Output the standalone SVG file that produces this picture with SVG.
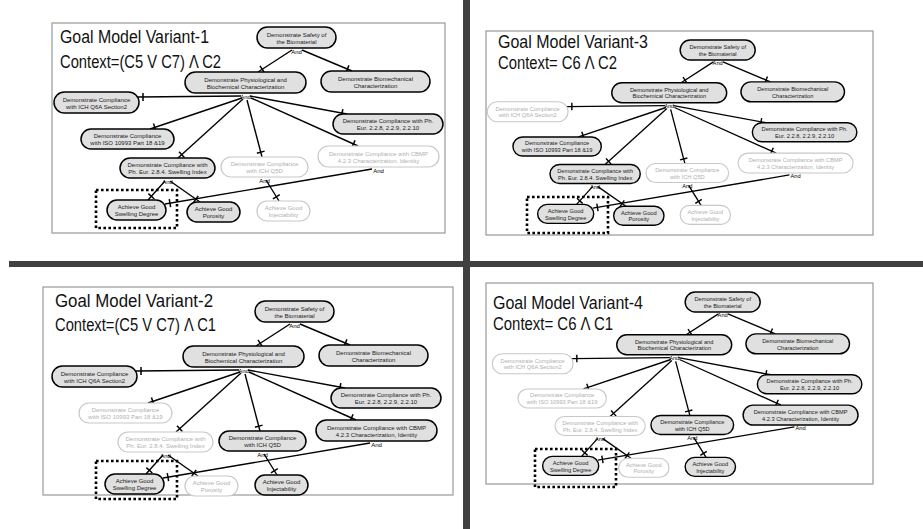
<svg xmlns="http://www.w3.org/2000/svg" width="923" height="529" viewBox="0 0 923 529">
<defs>
<marker id="tk" markerUnits="userSpaceOnUse" markerWidth="12" markerHeight="12" refX="6" refY="6" orient="auto" overflow="visible">
<path d="M1,2 L1,10" stroke="#000" stroke-width="1.5" fill="none"/>
</marker>
<style>
.frame{fill:#fff;stroke:#a0a0a0;stroke-width:1.3}
.bar{fill:#404040}
.title{font-family:"Liberation Sans",Arial,sans-serif;font-size:17.5px;fill:#111}
.t{font-family:"Liberation Sans",Arial,sans-serif;font-size:6px;text-anchor:middle}
.on rect{fill:#e0e0e0;stroke:#000;stroke-width:1.5}
.on text{fill:#1a1a1a}
.off rect{fill:#fff;stroke:#c8c8c8;stroke-width:1.2}
.off text{fill:#b0b0b0}
.conn line{stroke:#000;stroke-width:1.4;marker-end:url(#tk)}
.conn text{fill:#000}
.dash{fill:none;stroke:#000;stroke-width:2.6;stroke-dasharray:2.6 2.4}
</style>
</defs>
<rect width="923" height="529" fill="#fff"/>

<!-- Variant 1 -->
<g id="variant1">
<rect class="frame" x="52" y="23" width="393" height="210"/>
<text class="title" x="60" y="43" textLength="149" lengthAdjust="spacingAndGlyphs">Goal Model Variant-1</text>
<text class="title" x="60" y="68" textLength="161" lengthAdjust="spacingAndGlyphs">Context=(C5 V C7) Λ C2</text>
<g>
<g id="v1-connectors" class="conn t">
<line x1="292" y1="50" x2="258" y2="72"/>
<line x1="302" y1="50" x2="352" y2="71"/>
<line x1="241" y1="96" x2="138" y2="97"/>
<line x1="242" y1="98" x2="150" y2="129"/>
<line x1="243" y1="99" x2="178" y2="158"/>
<line x1="247" y1="100" x2="262" y2="157"/>
<line x1="250" y1="96" x2="347" y2="114"/>
<line x1="251" y1="98" x2="358" y2="146"/>
<line x1="165" y1="181" x2="148" y2="200"/>
<line x1="170" y1="181" x2="200" y2="202"/>
<line x1="372" y1="169" x2="165" y2="204"/>
<line x1="266" y1="180" x2="279" y2="201"/>
<text x="296.5" y="53.5">And</text>
<text x="245.5" y="98.5">And</text>
<text x="378.5" y="172.5">And</text>
<text x="264.5" y="182.5">And</text>
<text x="167.5" y="183.5">And</text>
</g>
<g id="v1-safety" class="on t"><rect x="257" y="27" width="79" height="21" rx="10.5"/><text x="296.5" y="36.5">Demonstrate Safety of</text><text x="296.5" y="43.5">the Biomaterial</text></g>
<g id="v1-phys" class="on t"><rect x="185" y="72" width="121" height="21" rx="10.5"/><text x="245.5" y="81.5">Demonstrate Physiological and</text><text x="245.5" y="88.5">Biochemical Characterization</text></g>
<g id="v1-biomech" class="on t"><rect x="321" y="71" width="109" height="21" rx="10.5"/><text x="375.5" y="80.5">Demonstrate Biomechanical</text><text x="375.5" y="87.5">Characterization</text></g>
<g id="v1-q6a" class="on t"><rect x="54" y="92" width="85" height="21" rx="10.5"/><text x="96.5" y="101.5">Demonstrate Compliance</text><text x="96.5" y="108.5">with ICH Q6A Section2</text></g>
<g id="v1-iso" class="on t"><rect x="81" y="129" width="93" height="20" rx="10"/><text x="127.5" y="138">Demonstrate Compliance</text><text x="127.5" y="145">with ISO 10993 Part 18 &amp;19</text></g>
<g id="v1-swidx" class="on t"><rect x="120" y="158" width="95" height="20" rx="10"/><text x="167.5" y="167">Demonstrate Compliance with</text><text x="167.5" y="174">Ph. Eur. 2.8.4. Swelling Index</text></g>
<g id="v1-q5d" class="off t"><rect x="221" y="157" width="87" height="20" rx="10"/><text x="264.5" y="166">Demonstrate Compliance</text><text x="264.5" y="173">with ICH Q5D</text></g>
<g id="v1-pheur" class="on t"><rect x="333" y="114" width="110" height="20" rx="10"/><text x="388" y="123">Demonstrate Compliance with Ph.</text><text x="388" y="130">Eur. 2.2.8, 2.2.9, 2.2.10</text></g>
<g id="v1-cbmp" class="off t"><rect x="318" y="146" width="121" height="21" rx="10.5"/><text x="378.5" y="155.5">Demonstrate Compliance with CBMP</text><text x="378.5" y="162.5">4.2.3 Characterization, Identity</text></g>
<g id="v1-inj" class="off t"><rect x="257" y="201" width="53" height="20" rx="10"/><text x="283.5" y="210">Achieve Good</text><text x="283.5" y="217">Injectability</text></g>
<g id="v1-sd" class="on t"><rect x="107" y="200" width="59" height="20" rx="10"/><text x="136.5" y="209">Achieve Good</text><text x="136.5" y="216">Swelling Degree</text></g>
<g id="v1-por" class="on t"><rect x="187" y="202" width="53" height="20" rx="10"/><text x="213.5" y="211">Achieve Good</text><text x="213.5" y="218">Porosity</text></g>
</g>
<rect class="dash" x="96" y="190" width="81" height="38"/>
</g>

<!-- Variant 2 -->
<g id="variant2">
<rect class="frame" x="43" y="287" width="410" height="208"/>
<text class="title" x="55" y="307" textLength="158" lengthAdjust="spacingAndGlyphs">Goal Model Variant-2</text>
<text class="title" x="55" y="331" textLength="161" lengthAdjust="spacingAndGlyphs">Context=(C5 V C7) Λ C1</text>
<g transform="translate(-2,274)">
<g id="v2-connectors" class="conn t">
<line x1="292" y1="50" x2="258" y2="72"/>
<line x1="302" y1="50" x2="352" y2="71"/>
<line x1="241" y1="96" x2="138" y2="97"/>
<line x1="242" y1="98" x2="150" y2="129"/>
<line x1="243" y1="99" x2="178" y2="158"/>
<line x1="247" y1="100" x2="262" y2="157"/>
<line x1="250" y1="96" x2="347" y2="114"/>
<line x1="251" y1="98" x2="358" y2="146"/>
<line x1="165" y1="181" x2="148" y2="200"/>
<line x1="170" y1="181" x2="200" y2="202"/>
<line x1="372" y1="169" x2="165" y2="204"/>
<line x1="266" y1="180" x2="279" y2="201"/>
<text x="296.5" y="53.5">And</text>
<text x="245.5" y="98.5">And</text>
<text x="378.5" y="172.5">And</text>
<text x="264.5" y="182.5">And</text>
<text x="167.5" y="183.5">And</text>
</g>
<g id="v2-safety" class="on t"><rect x="257" y="27" width="79" height="21" rx="10.5"/><text x="296.5" y="36.5">Demonstrate Safety of</text><text x="296.5" y="43.5">the Biomaterial</text></g>
<g id="v2-phys" class="on t"><rect x="185" y="72" width="121" height="21" rx="10.5"/><text x="245.5" y="81.5">Demonstrate Physiological and</text><text x="245.5" y="88.5">Biochemical Characterization</text></g>
<g id="v2-biomech" class="on t"><rect x="321" y="71" width="109" height="21" rx="10.5"/><text x="375.5" y="80.5">Demonstrate Biomechanical</text><text x="375.5" y="87.5">Characterization</text></g>
<g id="v2-q6a" class="on t"><rect x="54" y="92" width="85" height="21" rx="10.5"/><text x="96.5" y="101.5">Demonstrate Compliance</text><text x="96.5" y="108.5">with ICH Q6A Section2</text></g>
<g id="v2-iso" class="off t"><rect x="81" y="129" width="93" height="20" rx="10"/><text x="127.5" y="138">Demonstrate Compliance</text><text x="127.5" y="145">with ISO 10993 Part 18 &amp;19</text></g>
<g id="v2-swidx" class="off t"><rect x="120" y="158" width="95" height="20" rx="10"/><text x="167.5" y="167">Demonstrate Compliance with</text><text x="167.5" y="174">Ph. Eur. 2.8.4. Swelling Index</text></g>
<g id="v2-q5d" class="on t"><rect x="221" y="157" width="87" height="20" rx="10"/><text x="264.5" y="166">Demonstrate Compliance</text><text x="264.5" y="173">with ICH Q5D</text></g>
<g id="v2-pheur" class="on t"><rect x="333" y="114" width="110" height="20" rx="10"/><text x="388" y="123">Demonstrate Compliance with Ph.</text><text x="388" y="130">Eur. 2.2.8, 2.2.9, 2.2.10</text></g>
<g id="v2-cbmp" class="on t"><rect x="318" y="146" width="121" height="21" rx="10.5"/><text x="378.5" y="155.5">Demonstrate Compliance with CBMP</text><text x="378.5" y="162.5">4.2.3 Characterization, Identity</text></g>
<g id="v2-inj" class="on t"><rect x="257" y="201" width="53" height="20" rx="10"/><text x="283.5" y="210">Achieve Good</text><text x="283.5" y="217">Injectability</text></g>
<g id="v2-sd" class="on t"><rect x="107" y="200" width="59" height="20" rx="10"/><text x="136.5" y="209">Achieve Good</text><text x="136.5" y="216">Swelling Degree</text></g>
<g id="v2-por" class="off t"><rect x="187" y="202" width="53" height="20" rx="10"/><text x="213.5" y="211">Achieve Good</text><text x="213.5" y="218">Porosity</text></g>
</g>
<rect class="dash" x="96" y="461" width="81" height="38"/>
</g>

<!-- Variant 3 -->
<g id="variant3">
<rect class="frame" x="486" y="31" width="387" height="204"/>
<text class="title" x="498" y="48" textLength="150" lengthAdjust="spacingAndGlyphs">Goal Model Variant-3</text>
<text class="title" x="498" y="69" textLength="119" lengthAdjust="spacingAndGlyphs">Context= C6 Λ C2</text>
<g transform="translate(436,14.4) scale(0.95)">
<g id="v3-connectors" class="conn t">
<line x1="292" y1="50" x2="258" y2="72"/>
<line x1="302" y1="50" x2="352" y2="71"/>
<line x1="241" y1="96" x2="138" y2="97"/>
<line x1="242" y1="98" x2="150" y2="129"/>
<line x1="243" y1="99" x2="178" y2="158"/>
<line x1="247" y1="100" x2="262" y2="157"/>
<line x1="250" y1="96" x2="347" y2="114"/>
<line x1="251" y1="98" x2="358" y2="146"/>
<line x1="165" y1="181" x2="148" y2="200"/>
<line x1="170" y1="181" x2="200" y2="202"/>
<line x1="372" y1="169" x2="165" y2="204"/>
<line x1="266" y1="180" x2="279" y2="201"/>
<text x="296.5" y="53.5">And</text>
<text x="245.5" y="98.5">And</text>
<text x="378.5" y="172.5">And</text>
<text x="264.5" y="182.5">And</text>
<text x="167.5" y="183.5">And</text>
</g>
<g id="v3-safety" class="on t"><rect x="257" y="27" width="79" height="21" rx="10.5"/><text x="296.5" y="36.5">Demonstrate Safety of</text><text x="296.5" y="43.5">the Biomaterial</text></g>
<g id="v3-phys" class="on t"><rect x="185" y="72" width="121" height="21" rx="10.5"/><text x="245.5" y="81.5">Demonstrate Physiological and</text><text x="245.5" y="88.5">Biochemical Characterization</text></g>
<g id="v3-biomech" class="on t"><rect x="321" y="71" width="109" height="21" rx="10.5"/><text x="375.5" y="80.5">Demonstrate Biomechanical</text><text x="375.5" y="87.5">Characterization</text></g>
<g id="v3-q6a" class="off t"><rect x="54" y="92" width="85" height="21" rx="10.5"/><text x="96.5" y="101.5">Demonstrate Compliance</text><text x="96.5" y="108.5">with ICH Q6A Section2</text></g>
<g id="v3-iso" class="on t"><rect x="81" y="129" width="93" height="20" rx="10"/><text x="127.5" y="138">Demonstrate Compliance</text><text x="127.5" y="145">with ISO 10993 Part 18 &amp;19</text></g>
<g id="v3-swidx" class="on t"><rect x="120" y="158" width="95" height="20" rx="10"/><text x="167.5" y="167">Demonstrate Compliance with</text><text x="167.5" y="174">Ph. Eur. 2.8.4. Swelling Index</text></g>
<g id="v3-q5d" class="off t"><rect x="221" y="157" width="87" height="20" rx="10"/><text x="264.5" y="166">Demonstrate Compliance</text><text x="264.5" y="173">with ICH Q5D</text></g>
<g id="v3-pheur" class="on t"><rect x="333" y="114" width="110" height="20" rx="10"/><text x="388" y="123">Demonstrate Compliance with Ph.</text><text x="388" y="130">Eur. 2.2.8, 2.2.9, 2.2.10</text></g>
<g id="v3-cbmp" class="off t"><rect x="318" y="146" width="121" height="21" rx="10.5"/><text x="378.5" y="155.5">Demonstrate Compliance with CBMP</text><text x="378.5" y="162.5">4.2.3 Characterization, Identity</text></g>
<g id="v3-inj" class="off t"><rect x="257" y="201" width="53" height="20" rx="10"/><text x="283.5" y="210">Achieve Good</text><text x="283.5" y="217">Injectability</text></g>
<g id="v3-sd" class="on t"><rect x="107" y="200" width="59" height="20" rx="10"/><text x="136.5" y="209">Achieve Good</text><text x="136.5" y="216">Swelling Degree</text></g>
<g id="v3-por" class="on t"><rect x="187" y="202" width="53" height="20" rx="10"/><text x="213.5" y="211">Achieve Good</text><text x="213.5" y="218">Porosity</text></g>
</g>
<rect class="dash" x="527" y="197" width="81" height="36"/>
</g>

<!-- Variant 4 -->
<g id="variant4">
<rect class="frame" x="486" y="283" width="387" height="201"/>
<text class="title" x="493" y="309" textLength="150" lengthAdjust="spacingAndGlyphs">Goal Model Variant-4</text>
<text class="title" x="493" y="330" textLength="120" lengthAdjust="spacingAndGlyphs">Context= C6 Λ C1</text>
<g transform="translate(441,266.4) scale(0.95)">
<g id="v4-connectors" class="conn t">
<line x1="292" y1="50" x2="258" y2="72"/>
<line x1="302" y1="50" x2="352" y2="71"/>
<line x1="241" y1="96" x2="138" y2="97"/>
<line x1="242" y1="98" x2="150" y2="129"/>
<line x1="243" y1="99" x2="178" y2="158"/>
<line x1="247" y1="100" x2="262" y2="157"/>
<line x1="250" y1="96" x2="347" y2="114"/>
<line x1="251" y1="98" x2="358" y2="146"/>
<line x1="165" y1="181" x2="148" y2="200"/>
<line x1="170" y1="181" x2="200" y2="202"/>
<line x1="372" y1="169" x2="165" y2="204"/>
<line x1="266" y1="180" x2="279" y2="201"/>
<text x="296.5" y="53.5">And</text>
<text x="245.5" y="98.5">And</text>
<text x="378.5" y="172.5">And</text>
<text x="264.5" y="182.5">And</text>
<text x="167.5" y="183.5">And</text>
</g>
<g id="v4-safety" class="on t"><rect x="257" y="27" width="79" height="21" rx="10.5"/><text x="296.5" y="36.5">Demonstrate Safety of</text><text x="296.5" y="43.5">the Biomaterial</text></g>
<g id="v4-phys" class="on t"><rect x="185" y="72" width="121" height="21" rx="10.5"/><text x="245.5" y="81.5">Demonstrate Physiological and</text><text x="245.5" y="88.5">Biochemical Characterization</text></g>
<g id="v4-biomech" class="on t"><rect x="321" y="71" width="109" height="21" rx="10.5"/><text x="375.5" y="80.5">Demonstrate Biomechanical</text><text x="375.5" y="87.5">Characterization</text></g>
<g id="v4-q6a" class="off t"><rect x="54" y="92" width="85" height="21" rx="10.5"/><text x="96.5" y="101.5">Demonstrate Compliance</text><text x="96.5" y="108.5">with ICH Q6A Section2</text></g>
<g id="v4-iso" class="off t"><rect x="81" y="129" width="93" height="20" rx="10"/><text x="127.5" y="138">Demonstrate Compliance</text><text x="127.5" y="145">with ISO 10993 Part 18 &amp;19</text></g>
<g id="v4-swidx" class="off t"><rect x="120" y="158" width="95" height="20" rx="10"/><text x="167.5" y="167">Demonstrate Compliance with</text><text x="167.5" y="174">Ph. Eur. 2.8.4. Swelling Index</text></g>
<g id="v4-q5d" class="on t"><rect x="221" y="157" width="87" height="20" rx="10"/><text x="264.5" y="166">Demonstrate Compliance</text><text x="264.5" y="173">with ICH Q5D</text></g>
<g id="v4-pheur" class="on t"><rect x="333" y="114" width="110" height="20" rx="10"/><text x="388" y="123">Demonstrate Compliance with Ph.</text><text x="388" y="130">Eur. 2.2.8, 2.2.9, 2.2.10</text></g>
<g id="v4-cbmp" class="on t"><rect x="318" y="146" width="121" height="21" rx="10.5"/><text x="378.5" y="155.5">Demonstrate Compliance with CBMP</text><text x="378.5" y="162.5">4.2.3 Characterization, Identity</text></g>
<g id="v4-inj" class="on t"><rect x="257" y="201" width="53" height="20" rx="10"/><text x="283.5" y="210">Achieve Good</text><text x="283.5" y="217">Injectability</text></g>
<g id="v4-sd" class="on t"><rect x="107" y="200" width="59" height="20" rx="10"/><text x="136.5" y="209">Achieve Good</text><text x="136.5" y="216">Swelling Degree</text></g>
<g id="v4-por" class="off t"><rect x="187" y="202" width="53" height="20" rx="10"/><text x="213.5" y="211">Achieve Good</text><text x="213.5" y="218">Porosity</text></g>
</g>
<rect class="dash" x="535" y="449" width="81" height="38"/>
</g>

<!-- dividers -->
<rect class="bar" x="9" y="261" width="914" height="6"/>
<rect class="bar" x="463" y="0" width="7" height="529"/>
</svg>
